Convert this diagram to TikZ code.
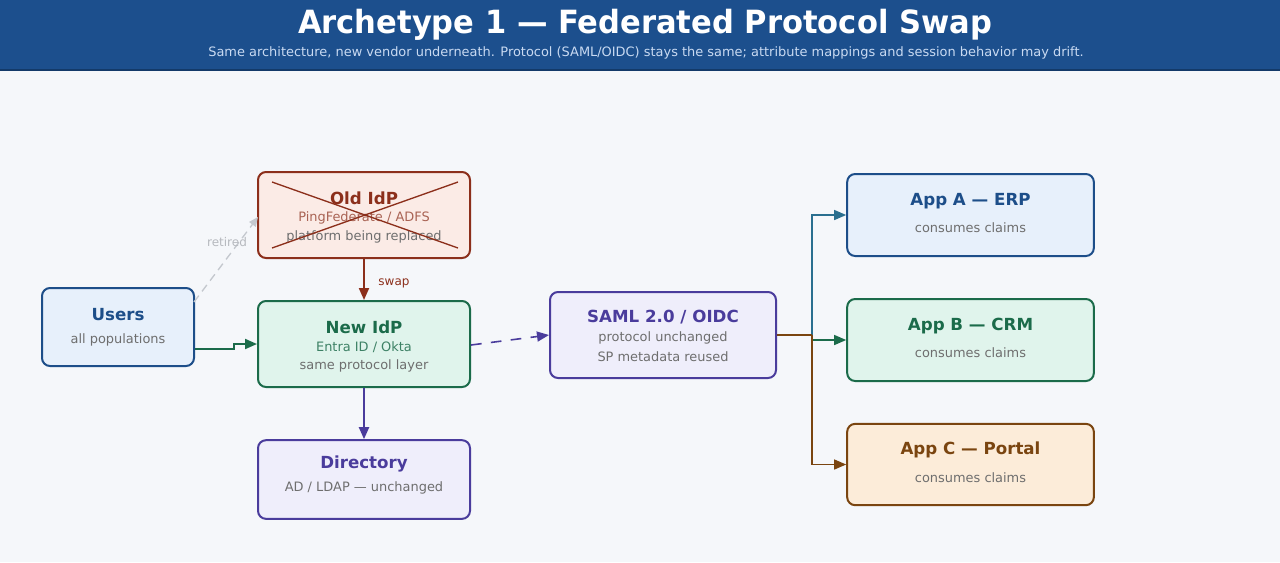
\documentclass[tikz,border=0pt]{standalone}
\usepackage{fontspec}
\setmainfont{DejaVu Sans}
\usetikzlibrary{arrows.meta}
\definecolor{bg}{HTML}{F5F7FA}
\definecolor{hdr}{HTML}{1C4F8D}
\definecolor{hdrline}{HTML}{133A69}
\definecolor{subhdr}{HTML}{C9DAF2}
\definecolor{cblue}{HTML}{1D4E89}
\definecolor{fblue}{HTML}{E7F0FB}
\definecolor{cgreen}{HTML}{1B6B4A}
\definecolor{fgreen}{HTML}{E0F4EC}
\definecolor{cred}{HTML}{8C2F1B}
\definecolor{fred}{HTML}{FBEBE6}
\definecolor{cpurp}{HTML}{4A3C9C}
\definecolor{fpurp}{HTML}{EFEEFB}
\definecolor{cbrown}{HTML}{7A4510}
\definecolor{fbrown}{HTML}{FCECD9}
\definecolor{cgray}{HTML}{6E6E6E}
\definecolor{cret}{HTML}{C4C8CE}
\definecolor{cteal}{HTML}{2A6F8F}
\tikzset{
  box/.style={draw, line width=1.5pt, rounded corners=6pt, inner sep=0pt},
  ttl/.style={font=\bfseries\fontsize{12.5}{14}\selectfont, inner sep=0pt, anchor=center},
  sub/.style={font=\fontsize{9.7}{11}\selectfont, text=cgray, inner sep=0pt, anchor=center},
  tip/.style={-{Triangle[length=9pt,width=7.5pt]}},
}
\begin{document}
\begin{tikzpicture}[x=0.75pt,y=-0.75pt]
\useasboundingbox (0,0) rectangle (1280,562);
\fill[bg] (0,0) rectangle (1280,562);
\fill[hdr] (0,0) rectangle (1280,70);
\draw[hdrline, line width=1.5pt] (0,70) -- (1280,70);
\node[font=\bfseries\fontsize{24}{28}\selectfont, text=white, inner sep=0pt] (title) at (645,25) {\scalebox{0.955}[1]{Archetype 1 — Federated Protocol Swap}};
\node[font=\fontsize{9.7}{11}\selectfont, text=subhdr, inner sep=0pt] (subtitle) at (646,53) {Same architecture, new vendor underneath. Protocol (SAML/OIDC) stays the same; attribute mappings and session behavior may drift.};

% boxes
\node[box, draw=cblue, fill=fblue, minimum width=114pt, minimum height=58.5pt] (users) at (118,327) {};
\node[ttl, text=cblue] (usersT) at (118,315) {Users};
\node[sub] (usersS) at (118,340) {all populations};

\node[box, draw=cred, fill=fred, minimum width=159pt, minimum height=64.5pt] (old) at (364,215) {};
\node[ttl, text=cred] (oldT) at (364,198) {Old IdP};
\node[sub, text=cred!75!white] (oldS1) at (364,218) {PingFederate / ADFS};
\node[sub] (oldS2) at (364,237) {platform being replaced};
\draw[cred, line width=1pt] (272,182) -- (458,248);
\draw[cred, line width=1pt] (272,248) -- (458,182);

\node[box, draw=cgreen, fill=fgreen, minimum width=159pt, minimum height=64.5pt] (new) at (364,344) {};
\node[ttl, text=cgreen] (newT) at (364,327) {New IdP};
\node[sub, text=cgreen!85!white] (newS1) at (364,347) {Entra ID / Okta};
\node[sub] (newS2) at (364,366) {same protocol layer};

\node[box, draw=cpurp, fill=fpurp, minimum width=159pt, minimum height=59pt] (dir) at (364,479.5) {};
\node[ttl, text=cpurp] (dirT) at (364,464) {Directory};
\node[sub] (dirS) at (364,488) {AD / LDAP — unchanged};

\node[box, draw=cpurp, fill=fpurp, minimum width=169.5pt, minimum height=64.5pt] (saml) at (663,335) {};
\node[ttl, text=cpurp] (samlT) at (663,317) {SAML 2.0 / OIDC};
\node[sub] (samlS1) at (663,338) {protocol unchanged};
\node[sub] (samlS2) at (663,357) {SP metadata reused};

\node[box, draw=cblue, fill=fblue, minimum width=185pt, minimum height=61.5pt] (appa) at (970.5,215) {};
\node[ttl, text=cblue] (appaT) at (970.5,201) {App A — ERP};
\node[sub] (appaS) at (970.5,228) {consumes claims};

\node[box, draw=cgreen, fill=fgreen, minimum width=185pt, minimum height=61.5pt] (appb) at (970.5,340) {};
\node[ttl, text=cgreen] (appbT) at (970.5,326) {App B — CRM};
\node[sub] (appbS) at (970.5,353) {consumes claims};

\node[box, draw=cbrown, fill=fbrown, minimum width=185pt, minimum height=61pt] (appc) at (970.5,464.5) {};
\node[ttl, text=cbrown] (appcT) at (970.5,450) {App C — Portal};
\node[sub] (appcS) at (970.5,478) {consumes claims};

% connectors
\coordinate (u1) at (234,349);
\coordinate (u2) at (234,344);
\draw[tip, cgreen, line width=1.5pt] (users.east |- u1) -- (u1) -- (u2) -- (new.west |- u2);

\draw[-{Triangle[length=7pt,width=6pt]}, cret, dash pattern=on 6pt off 4pt, line width=1pt] (194,302) -- (258,217);
\node[font=\fontsize{9}{11}\selectfont, text=cret!80!gray, inner sep=0pt] (ret) at (227,242) {retired};

\draw[tip, cred, line width=1.5pt] (old.south) -- (new.north);
\node[font=\fontsize{9}{11}\selectfont, text=cred, inner sep=0pt] (swap) at (394,283) {swap};

\draw[tip, cpurp, line width=1.5pt] (new.south) -- (dir.north);

\draw[tip, cpurp, dash pattern=on 8pt off 7pt, line width=1.2pt] (new.east |- 0,345) -- (saml.west |- 0,335);

\coordinate (tr) at (812,335);
\draw[tip, cteal, line width=1pt] (tr) |- (appa.west);
\draw[tip, cgreen, line width=1pt] (tr) |- (appb.west);
\draw[tip, cbrown, line width=1pt] (tr) |- (appc.west);
\draw[cbrown, line width=1pt] (saml.east) -- (tr);
\end{tikzpicture}
\end{document}
